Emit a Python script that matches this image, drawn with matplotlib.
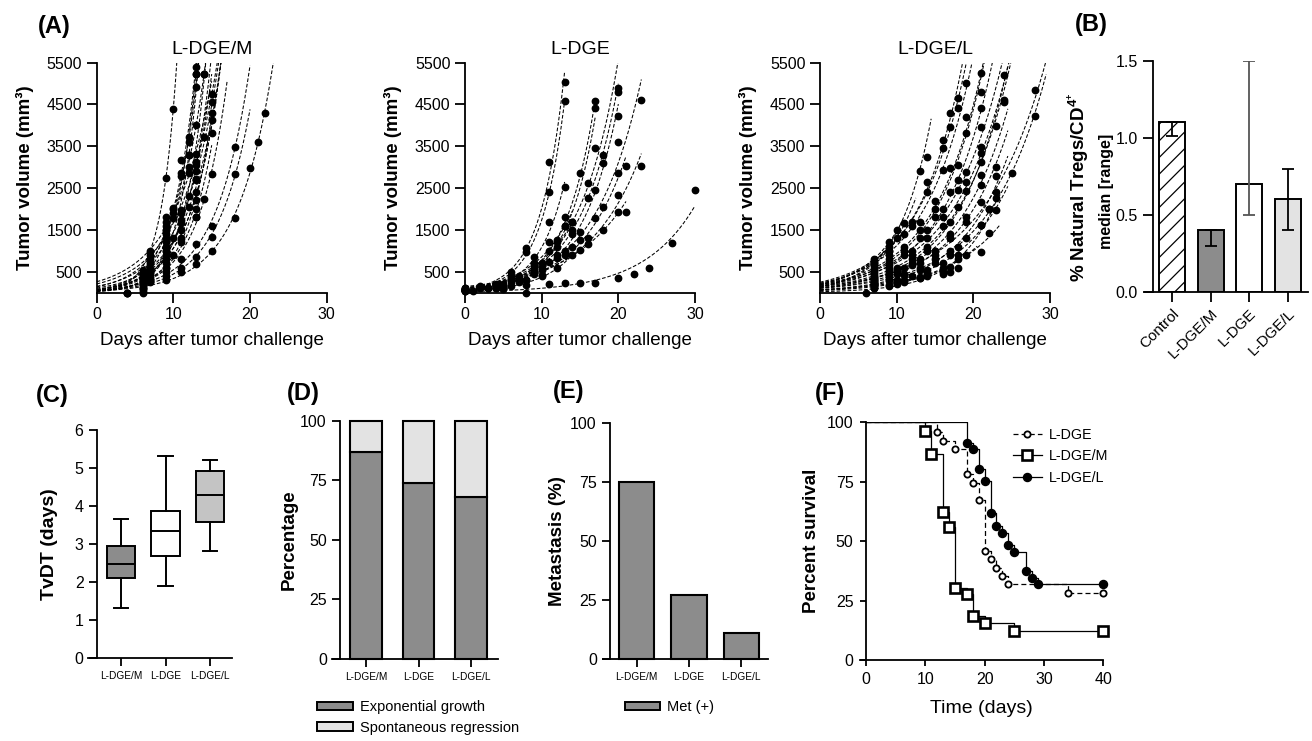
import numpy as np
import matplotlib
matplotlib.use('Agg')
import matplotlib.pyplot as plt
from matplotlib.patches import Patch
from matplotlib.lines import Line2D

plt.rcParams['font.family'] = ['Liberation Sans', 'DejaVu Sans']
plt.rcParams['mathtext.fontset'] = 'custom'
plt.rcParams['mathtext.rm'] = 'Liberation Sans'
plt.rcParams['mathtext.bf'] = 'Liberation Sans:bold'
plt.rcParams['hatch.linewidth'] = 0.9

# ---------------- DATA ----------------
# (A) individual tumour growth, days and volumes (mm3)
dgem_days = [
    [4, 6, 9, 10, 11, 12, 13], [6, 9, 11, 12, 13], [6, 9, 11, 12, 13], [6, 9, 11, 13, 14],
    [7, 9, 10], [6, 9, 10, 12, 13], [6, 9, 10, 13, 14, 15], [6, 7, 9, 11, 13, 15],
    [6, 7, 9, 11, 13, 15], [6, 7, 9, 10, 13, 15], [6, 7, 9, 12, 15], [6, 7, 9, 11, 13, 14, 15],
    [6, 7, 9, 11, 13, 15, 18], [6, 7, 9, 11, 13, 15, 18], [6, 9, 13, 15, 18, 20, 21, 22],
    [4, 6, 7, 9, 10, 12, 13], [4, 6, 7, 9, 11, 13], [6, 7, 9, 11, 13], [6, 7, 9, 12, 13, 14],
    [6, 9, 10, 11, 12, 13], [6, 7, 9, 11, 13]]
dgem_vols = [
    [0, 350, 1500, 2000, 3171, 3729, 5402], [300, 1300, 2853, 3610, 5219], [250, 1100, 1976, 3291, 4924],
    [200, 1000, 1737, 3307, 5219], [1000, 2750, 4390], [550, 1817, 2016, 2853, 3131],
    [450, 1600, 1777, 3052, 3729, 4741], [400, 800, 1400, 1657, 2717, 4566],
    [350, 700, 1200, 1219, 2414, 4303], [300, 600, 900, 900, 2215, 4127], [250, 500, 800, 2056, 3809],
    [150, 400, 600, 797, 1817, 2239, 2829], [100, 350, 500, 582, 1155, 1602, 3490],
    [80, 300, 400, 500, 861, 1339, 2829], [50, 300, 677, 1004, 1793, 2972, 3594, 4303],
    [0, 200, 450, 1000, 1300, 2300, 2900], [0, 100, 300, 700, 1500, 2000], [0, 250, 600, 1300, 1800],
    [400, 900, 1700, 3000, 4000, 5219], [500, 1500, 1900, 2800, 3300, 5219], [200, 500, 1100, 1900, 2700]]

dge_days = [
    [0, 2, 4, 6, 8, 11, 13], [0, 2, 4, 6, 8, 11, 13], [0, 3, 5, 7, 9, 11, 13],
    [0, 3, 5, 6, 9, 12, 15, 17], [0, 2, 5, 6, 9, 12, 14, 17], [0, 3, 5, 7, 10, 13, 16, 17, 20],
    [0, 4, 7, 10, 13, 16, 18, 20], [0, 4, 8, 10, 14, 17, 18, 20], [0, 5, 9, 12, 15, 17, 20, 23],
    [0, 5, 9, 12, 14, 16, 18, 20, 21], [0, 5, 10, 13, 15, 18, 20, 23], [0, 5, 8, 11, 13, 15, 16, 20, 21],
    [1, 8, 11, 13, 15, 17, 20, 22, 24, 27, 30], [0, 6, 8, 10, 12, 14], [0, 4, 6, 9, 11, 13, 14],
    [0, 3, 6, 9, 11, 12, 14]]
dge_vols = [
    [100, 150, 200, 500, 1076, 3115, 5028], [100, 130, 180, 400, 980, 2414, 4582],
    [90, 120, 200, 400, 700, 1697, 2534], [80, 120, 180, 300, 600, 1259, 2853, 4582],
    [80, 100, 150, 250, 550, 1100, 1700, 4406], [70, 100, 150, 300, 700, 1817, 2614, 3466, 4884],
    [70, 120, 250, 600, 1600, 2255, 3291, 4800], [60, 100, 300, 550, 1500, 2454, 3092, 4231],
    [60, 120, 500, 900, 1458, 1793, 3594, 4606], [60, 100, 450, 820, 1100, 1299, 2056, 2853, 3036],
    [50, 100, 420, 900, 1259, 1498, 2335, 3028], [50, 90, 300, 741, 1000, 1020, 1155, 1936, 1936],
    [50, 0, 200, 239, 239, 223, 343, 438, 598, 1179, 2462], [50, 150, 183, 400, 580, 900],
    [70, 130, 350, 850, 1219, 1600, 1700], [60, 100, 300, 650, 1000, 1200, 1400]]

dgel_days = [
    [7, 10, 13], [7, 9, 12, 14, 16, 18, 19], [7, 9, 12, 14, 16, 17, 18], [7, 9, 11, 14, 16, 17, 19],
    [7, 9, 11, 13, 15, 18, 21], [7, 9, 11, 13, 15, 17, 19, 21], [7, 9, 11, 13, 15, 17, 19, 21],
    [7, 9, 12, 14, 16, 18, 21, 24], [7, 9, 12, 14, 16, 18, 21, 24], [7, 10, 12, 14, 16, 18, 21, 24],
    [7, 10, 12, 14, 17, 19, 21, 23], [7, 10, 12, 15, 17, 19, 21, 23], [7, 10, 13, 15, 17, 19, 21, 23],
    [7, 9, 11, 13, 15, 17, 19, 22, 25, 28], [7, 9, 11, 13, 15, 17, 19, 21, 23, 28],
    [7, 9, 11, 13, 15, 17, 18, 21, 23], [7, 10, 12, 14, 16, 18, 21, 23], [7, 10, 13, 14, 16, 18, 21, 22],
    [6, 7, 9, 11, 13, 14, 16, 17, 18, 22], [7, 9, 10, 11, 13, 14, 16, 17, 19],
    [7, 9], [7, 9], [7, 9, 10, 11]]
dgel_vols = [
    [700, 1500, 2908], [650, 1000, 1700, 2653, 3649, 4645, 5004], [600, 900, 1600, 3251, 3450, 4287, 4406],
    [550, 800, 1400, 2400, 2932, 3968, 4207], [500, 700, 1100, 1700, 2200, 3052, 5243],
    [450, 650, 1000, 1500, 2000, 2972, 3809, 4805], [400, 600, 900, 1300, 1800, 2400, 2876, 4406],
    [380, 550, 1000, 1500, 2000, 2693, 3968, 5203], [350, 500, 900, 1300, 1800, 2454, 3490, 4606],
    [330, 600, 800, 1100, 1600, 2056, 3331, 4566], [300, 550, 700, 1000, 1700, 2653, 3131, 3992],
    [280, 500, 650, 1000, 1400, 2430, 2812, 3012], [260, 450, 700, 900, 1300, 1800, 2573, 2800],
    [240, 400, 600, 800, 1000, 1300, 1700, 2000, 2853, 4845],
    [200, 330, 450, 600, 800, 1000, 1300, 1617, 2255, 4231],
    [200, 300, 420, 550, 700, 900, 1100, 2175, 2414], [180, 300, 400, 550, 700, 900, 1617, 1976],
    [160, 250, 350, 450, 600, 800, 980, 1418], [0, 100, 150, 250, 350, 400, 450, 500, 600, 2000],
    [120, 180, 200, 300, 380, 450, 500, 620, 900], [800, 1200], [750, 1100], [700, 1000, 1300, 1657]]

growth_titles = ['L-DGE/M', 'L-DGE', 'L-DGE/L']
growth_ext = [2.0, 0.0, 1.5]   # how far (days) the fitted curves run past the last point

# (B) natural Tregs / CD4+
treg_groups = ['Control', 'L-DGE/M', 'L-DGE', 'L-DGE/L']
treg_median = [1.1, 0.4, 0.7, 0.6]
treg_low = [1.01, 0.3, 0.5, 0.4]
treg_high = [1.1, 0.4, 1.5, 0.8]

# (C) TvDT box plot
groups3 = ['L-DGE/M', 'L-DGE', 'L-DGE/L']
tvdt_whislo = [1.32, 1.89, 2.82]
tvdt_q1 = [2.10, 2.70, 3.57]
tvdt_med = [2.48, 3.34, 4.30]
tvdt_q3 = [2.94, 3.86, 4.91]
tvdt_whishi = [3.67, 5.31, 5.20]

# (D) growth pattern percentages
exp_growth = [87, 74, 68]
spont_regr = [13, 26, 32]

# (E) metastasis
metastasis = [75, 27, 11]

# (F) Kaplan-Meier survival
km_dge_t = [0, 12, 13, 15, 17, 18, 19, 20, 21, 22, 23, 24, 34, 40]
km_dge_s = [100, 96.1, 92.3, 88.8, 78.1, 74.3, 67.3, 45.9, 42.4, 38.8, 35.3, 31.8, 28.1, 28.1]
km_dgem_t = [0, 10, 11, 13, 14, 15, 17, 18, 20, 25, 40]
km_dgem_s = [100, 96.3, 86.7, 62.1, 55.8, 30.4, 27.6, 18.5, 15.4, 12.2, 12.2]
km_dgel_t = [0, 17, 18, 19, 20, 21, 22, 23, 24, 25, 27, 28, 29, 40]
km_dgel_s = [100, 91.4, 88.6, 80.5, 75.3, 61.7, 56.4, 53.6, 48.4, 45.6, 37.4, 34.6, 32.0, 32.0]

# ---------------- FIGURE ----------------
W, H = 1312, 741
fig = plt.figure(figsize=(W / 100, H / 100), dpi=100)

TICK_FS = 11.5
LAB_FS = 13.5


def axes_px(x0, y_top, x1, y_bot):
    return fig.add_axes([x0 / W, 1 - y_bot / H, (x1 - x0) / W, (y_bot - y_top) / H])


def style(ax, fs=TICK_FS, length=7, pad=3.5):
    for s in ['top', 'right']:
        ax.spines[s].set_visible(False)
    for s in ['left', 'bottom']:
        ax.spines[s].set_linewidth(1.3)
    ax.tick_params(direction='out', length=length, width=1.3, labelsize=fs, pad=pad)


def ftext(x, y, s, **kw):
    fig.text(x / W, 1 - y / H, s, **kw)


GRAY = '#8c8c8c'
LIGHT = '#e3e3e3'

# ---- (A) ----
a_left = [96.7, 465, 820]
all_days = [dgem_days, dge_days, dgel_days]
all_vols = [dgem_vols, dge_vols, dgel_vols]
for i in range(3):
    ax = axes_px(a_left[i], 62.7, a_left[i] + 230, 292.6)
    style(ax)
    for d, v in zip(all_days[i], all_vols[i]):
        d = np.asarray(d, float)
        v = np.asarray(v, float)
        m = v >= 40
        b, loga = np.polyfit(d[m], np.log(v[m]), 1, w=np.sqrt(v[m]))
        t_end = d.max() + growth_ext[i]
        t_top = (np.log(5600) - loga) / b
        t_end = min(t_end, t_top)
        t = np.linspace(0, t_end, 200)
        ax.plot(t, np.exp(loga + b * t), color='black', lw=0.75, ls=(0, (3.5, 1.8)))
        ax.plot(d, v, 'o', color='black', ms=4.6, clip_on=False, zorder=3)
    ax.set_xlim(0, 30)
    ax.set_ylim(0, 5500)
    ax.set_xticks([0, 10, 20, 30])
    ax.set_yticks(range(500, 5501, 1000))
    ax.set_title(growth_titles[i], fontsize=14, pad=6)
    ax.set_xlabel('Days after tumor challenge', fontsize=LAB_FS, labelpad=7)
    ax.set_ylabel('Tumor volume (mm³)', fontsize=LAB_FS, fontweight='bold', labelpad=9)

# ---- (B) ----
ax = axes_px(1145, 60.7, 1308, 291.7)
style(ax)
ax.spines['left'].set_position(('axes', 7.7 / 163))
xb = np.arange(4)
bfc = ['white', GRAY, 'white', LIGHT]
bhatch = ['//', None, None, None]
for k in range(4):
    ax.bar(xb[k], treg_median[k], width=0.68, color=bfc[k], edgecolor='black', lw=1.4,
           hatch=bhatch[k], zorder=2)
ecol = ['black', 'black', '#555555', 'black']
for k in range(4):
    ax.errorbar(xb[k], treg_median[k],
                yerr=[[treg_median[k] - treg_low[k]], [treg_high[k] - treg_median[k]]],
                fmt='none', ecolor=ecol[k], elinewidth=1.3, capsize=4, capthick=1.3, zorder=3)
ax.set_xlim(-0.71, 3.53)
ax.set_ylim(0, 1.5)
ax.set_yticks([0.0, 0.5, 1.0, 1.5])
ax.set_yticklabels(['0.0', '0.5', '1.0', '1.5'])
ax.set_xticks(xb)
ax.set_xticklabels(treg_groups, rotation=45, ha='right', rotation_mode='anchor', fontsize=11)
ftext(1079, 187, r'% Natural Tregs/CD$\mathbf{^{4^{+}}}$', rotation=90, ha='center', va='center',
      fontsize=LAB_FS, fontweight='bold')
ftext(1106, 191, 'median [range]', rotation=90, ha='center', va='center', fontsize=11.5,
      fontweight='bold')

# ---- (C) ----
ax = axes_px(88, 430, 231.7, 658.3)
style(ax, length=6)
ax.spines['left'].set_position(('axes', 8.7 / 143.7))
stats = [dict(med=tvdt_med[k], q1=tvdt_q1[k], q3=tvdt_q3[k], whislo=tvdt_whislo[k],
              whishi=tvdt_whishi[k], fliers=[]) for k in range(3)]
bp = ax.bxp(stats, positions=[1, 2, 3], widths=0.65, patch_artist=True, showfliers=False,
            boxprops=dict(lw=1.4, edgecolor='black'), whiskerprops=dict(lw=1.4),
            capprops=dict(lw=1.4), medianprops=dict(color='black', lw=1.4))
for patch, c in zip(bp['boxes'], [GRAY, 'white', '#c4c4c4']):
    patch.set_facecolor(c)
ax.set_xlim(0.258, 3.488)
ax.set_ylim(0, 6)
ax.set_yticks(range(0, 7))
ax.set_xticks([1, 2, 3])
ax.set_xticklabels(groups3, fontsize=7.3)
ax.set_ylabel('TvDT (days)', fontsize=14, fontweight='bold', labelpad=12)

# ---- (D) ----
ax = axes_px(331.7, 420.7, 498.3, 659)
style(ax, length=6)
ax.spines['left'].set_position(('axes', 8.3 / 166.6))
xp = np.array([1, 2, 3])
ax.bar(xp, exp_growth, width=0.6, color=GRAY, edgecolor='black', lw=1.5, clip_on=False, zorder=2)
ax.bar(xp, spont_regr, bottom=exp_growth, width=0.6, color=LIGHT, edgecolor='black', lw=1.5,
       clip_on=False, zorder=2)
ax.set_xlim(0.349, 3.513)
ax.set_ylim(0, 100)
ax.set_yticks([0, 25, 50, 75, 100])
ax.set_xticks(xp)
ax.set_xticklabels(groups3, fontsize=7.3)
ax.set_ylabel('Percentage', fontsize=LAB_FS, fontweight='bold', labelpad=2)
ax.legend(handles=[Patch(fc=GRAY, ec='black', lw=1.4, label='Exponential growth'),
                   Patch(fc=LIGHT, ec='black', lw=1.4, label='Spontaneous regression')],
          loc='upper left', bbox_to_anchor=(316.7 / W, 1 - 700 / H), bbox_transform=fig.transFigure,
          frameon=False, fontsize=10.5, handlelength=2.5, handleheight=0.5, handletextpad=0.45,
          labelspacing=0.45, borderpad=0, borderaxespad=0)

# ---- (E) ----
ax = axes_px(603, 422.7, 768.3, 659)
style(ax, length=6)
ax.spines['left'].set_position(('axes', 7 / 165.3))
ax.bar(xp, metastasis, width=0.67, color=GRAY, edgecolor='black', lw=1.5, clip_on=False, zorder=2)
ax.set_xlim(0.356, 3.516)
ax.set_ylim(0, 100)
ax.set_yticks([0, 25, 50, 75, 100])
ax.set_xticks(xp)
ax.set_xticklabels(groups3, fontsize=7.3)
ax.set_ylabel('Metastasis (%)', fontsize=LAB_FS, fontweight='bold', labelpad=3)
ax.legend(handles=[Patch(fc=GRAY, ec='black', lw=1.4, label='Met (+)')],
          loc='upper left', bbox_to_anchor=(625 / W, 1 - 700 / H), bbox_transform=fig.transFigure,
          frameon=False, fontsize=10.5, handlelength=2.4, handleheight=0.5, handletextpad=0.45,
          borderpad=0, borderaxespad=0)

# ---- (F) ----
ax = axes_px(860, 422.3, 1103.3, 660)
style(ax, length=4.5, pad=4.5)
ax.spines['left'].set_position(('data', 0))
ax.step(km_dge_t, km_dge_s, where='post', color='black', lw=0.9, ls=(0, (4, 2.5)))
ax.plot(km_dge_t[1:], km_dge_s[1:], 'o', ms=4.5, mfc='white', mec='black', mew=1.3, ls='none',
        clip_on=False, zorder=4)
ax.step(km_dgem_t, km_dgem_s, where='post', color='black', lw=0.9)
ax.plot(km_dgem_t[1:], km_dgem_s[1:], 's', ms=7, mfc='white', mec='black', mew=1.9, ls='none',
        clip_on=False, zorder=4)
ax.step(km_dgel_t, km_dgel_s, where='post', color='black', lw=0.9)
ax.plot(km_dgel_t[1:], km_dgel_s[1:], 'o', ms=5.8, color='black', ls='none', clip_on=False,
        zorder=4)
ax.set_xlim(-1, 40)
ax.set_ylim(0, 100)
ax.set_xticks([0, 10, 20, 30, 40])
ax.set_yticks([0, 25, 50, 75, 100])
ax.set_xlabel('Time (days)', fontsize=14, labelpad=9)
ax.set_ylabel('Percent survival', fontsize=LAB_FS, fontweight='bold', labelpad=5)
handles = [Line2D([], [], color='black', lw=0.9, ls=(0, (4, 2.5)), marker='o', ms=4.5, mfc='white',
                  mec='black', mew=1.3, label='L-DGE'),
           Line2D([], [], color='black', lw=0.9, marker='s', ms=7, mfc='white', mec='black', mew=1.9,
                  label='L-DGE/M'),
           Line2D([], [], color='black', lw=0.9, marker='o', ms=5.8, label='L-DGE/L')]
ax.legend(handles=handles, loc='upper left', bbox_to_anchor=(0.629, 0.975), frameon=False,
          fontsize=10.3, handlelength=2.0, handletextpad=0.5, labelspacing=0.5, borderpad=0,
          borderaxespad=0)

# ---- panel letters ----
for lab, x, y in [('(A)', 38, 15), ('(B)', 1075, 13), ('(C)', 36, 384), ('(D)', 287, 382),
                  ('(E)', 553, 380), ('(F)', 815, 382)]:
    ftext(x, y, lab, fontsize=17, fontweight='bold', ha='left', va='top')

fig.savefig('out.png', dpi=100)
